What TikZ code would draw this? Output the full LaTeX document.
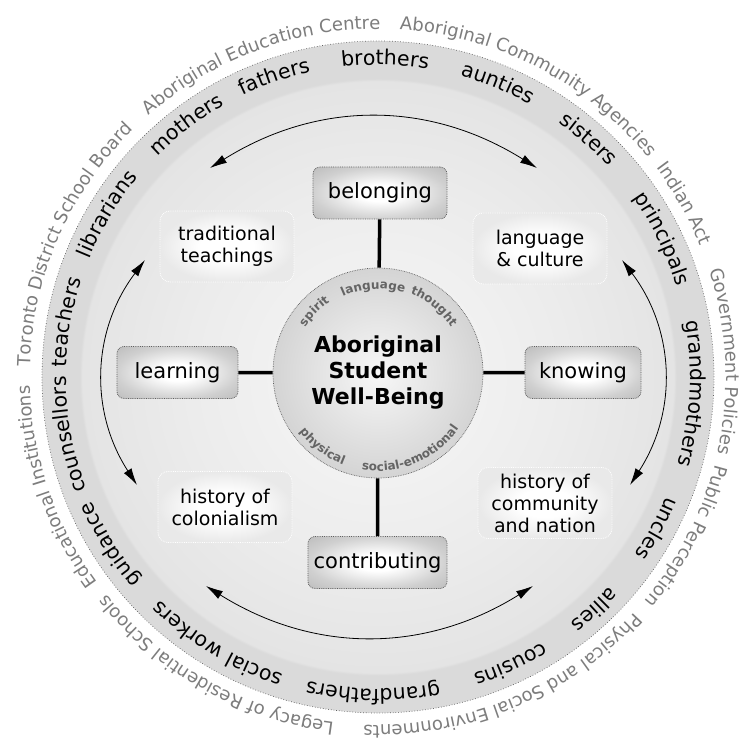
\documentclass[tikz,border=0pt]{standalone}
\usepackage{fontspec}
\setmainfont{DejaVu Sans}
\usetikzlibrary{decorations.text,arrows.meta}
\definecolor{dcenter}{RGB}{247,247,247}
\definecolor{dmid}{RGB}{236,236,236}
\definecolor{dinner}{RGB}{228,228,228}
\definecolor{dband}{RGB}{218,218,218}
\definecolor{icenter}{RGB}{247,247,247}
\definecolor{iedge}{RGB}{212,212,212}
\definecolor{bedge}{RGB}{208,208,208}
\definecolor{bcorner}{RGB}{188,188,188}
\definecolor{ledge}{RGB}{233,233,233}
\definecolor{ringgray}{RGB}{125,125,125}
\definecolor{smallgray}{RGB}{100,100,100}
\definecolor{dotgray}{RGB}{95,95,95}
\pgfdeclareradialshading{diskshade}{\pgfpoint{0bp}{0bp}}{color(0bp)=(dcenter); color(14bp)=(dmid); color(22bp)=(dinner); color(22.2bp)=(dband); color(25bp)=(dband); color(50bp)=(dband)}
\pgfdeclareradialshading{innershade}{\pgfpoint{0bp}{0bp}}{color(0bp)=(icenter); color(25bp)=(iedge); color(50bp)=(iedge)}
\pgfdeclareradialshading{boxshade}{\pgfpoint{0bp}{0bp}}{color(0bp)=(white); color(8bp)=(white); color(25bp)=(bedge); color(36bp)=(bcorner); color(50bp)=(bcorner)}
\pgfdeclareradialshading{lightshade}{\pgfpoint{0bp}{0bp}}{color(0bp)=(white); color(10bp)=(white); color(25bp)=(ledge); color(50bp)=(ledge)}
\newcommand\rfblack{\fontsize{20.5}{24}\selectfont\color{black}}
\newcommand\rfgray{\fontsize{18}{22}\selectfont\color{ringgray}}
\newcommand\rfsmall{\bfseries\fontsize{12}{14}\selectfont\color{smallgray}}
\newcommand\cwtext[4]{\path[decorate,decoration={text along path,text align=center,text={|#3|#4}}] (#1+80:#2) arc[start angle=#1+80,end angle=#1-80,radius=#2];}
\newcommand\ccwtext[4]{\path[decorate,decoration={text along path,text align=center,text={|#3|#4}}] (#1-80:#2) arc[start angle=#1-80,end angle=#1+80,radius=#2];}
\tikzset{
  darkbox/.style={draw=dotgray, densely dotted, line width=0.8pt, rounded corners=7pt, shade, shading=boxshade, minimum height=52pt, inner sep=0pt, font=\fontsize{21}{25}\selectfont},
  lightbox/.style={draw=white, densely dotted, line width=0.8pt, rounded corners=10pt, shade, shading=lightshade, minimum width=134pt, minimum height=71pt, inner sep=2pt, align=center, font=\fontsize{19}{22}\selectfont},
  conn/.style={line width=3.5pt, black},
  arr/.style={line width=0.8pt, {Latex[length=17pt,width=9pt]}-{Latex[length=17pt,width=9pt]}},
}
\begin{document}
\begin{tikzpicture}[x=1pt,y=1pt]
\useasboundingbox (-378,-370) rectangle (362,377);
\fill[white] (-378,-370) rectangle (362,377);
% big disk
\shade[shading=diskshade] (0,0) circle (336pt);
\draw[dotgray, dotted, line width=0.7pt] (0,0) circle (336pt);
% arrows
\coordinate (tl) at (-168,209);
\coordinate (tr) at (159,209);
\coordinate (rt) at (244,117);
\coordinate (rb) at (252,-108);
\coordinate (br) at (155,-209);
\coordinate (bl) at (-172,-209);
\coordinate (lb) at (-241,-108);
\coordinate (lt) at (-233,117);
\draw[arr] (tl) to[bend left=32] (tr);
\draw[arr] (rt) to[bend left=35] (rb);
\draw[arr] (br) to[bend left=32] (bl);
\draw[arr] (lb) to[bend left=35] (lt);
% centre
\node[circle, minimum size=210pt, draw=dotgray, densely dotted, line width=0.7pt, shade, shading=innershade, align=center, font=\bfseries\fontsize{22}{26}\selectfont] (inner) at (0,4) {Aboriginal\\Student\\Well-Being};
% boxes
\node[darkbox, minimum width=134pt] (belonging) at (2,184) {belonging};
\node[darkbox, minimum width=121pt] (learning) at (-200.5,4.5) {learning};
\node[darkbox, minimum width=116pt] (knowing) at (205,4.5) {knowing};
\node[darkbox, minimum width=139pt] (contributing) at (-0.5,-185.5) {contributing};
\node[lightbox] (trad) at (-151,130.5) {traditional\\teachings};
\node[lightbox] (lang) at (162,128.5) {language\\\& culture};
\node[lightbox] (colon) at (-153,-130) {history of\\colonialism};
\node[lightbox] (comm) at (167,-126) {history of\\community\\and nation};
\draw[conn] (belonging) -- (inner);
\draw[conn] (learning) -- (inner);
\draw[conn] (knowing) -- (inner);
\draw[conn] (contributing) -- (inner);
% black ring words
\cwtext{88.7}{312pt}{\rfblack}{brothers}
\cwtext{109.1}{312pt}{\rfblack}{fathers}
\cwtext{127.2}{312pt}{\rfblack}{mothers}
\cwtext{149}{312pt}{\rfblack}{librarians}
\cwtext{170}{312pt}{\rfblack}{teachers}
\cwtext{190.5}{312pt}{\rfblack}{counsellors}
\cwtext{212}{312pt}{\rfblack}{guidance}
\cwtext{239}{312pt}{\rfblack}{social workers}
\cwtext{269.1}{312pt}{\rfblack}{grandfathers}
\cwtext{294.8}{312pt}{\rfblack}{cousins}
\cwtext{312.9}{312pt}{\rfblack}{allies}
\cwtext{331.5}{312pt}{\rfblack}{uncles}
\cwtext{356.9}{312pt}{\rfblack}{grandmothers}
\cwtext{25.9}{312pt}{\rfblack}{principals}
\cwtext{48.5}{312pt}{\rfblack}{sisters}
\cwtext{67.8}{312pt}{\rfblack}{aunties}
% gray outer words
\cwtext{110.4}{348pt}{\rfgray}{Aboriginal Education Centre}
\cwtext{62.7}{348pt}{\rfgray}{Aboriginal Community Agencies}
\cwtext{29.5}{348pt}{\rfgray}{Indian Act}
\cwtext{2.6}{348pt}{\rfgray}{Government Policies}
\cwtext{-27.3}{348pt}{\rfgray}{Public Perception}
\cwtext{-67.5}{348pt}{\rfgray}{Physical and Social Environments}
\cwtext{-119.3}{348pt}{\rfgray}{Legacy of Residential Schools}
\cwtext{-161.2}{348pt}{\rfgray}{Educational Institutions}
\cwtext{156.4}{348pt}{\rfgray}{Toronto District School Board}
% inner small words
\begin{scope}[shift={(0,4)}]
\cwtext{135.9}{86pt}{\rfsmall}{spirit}
\cwtext{93.3}{84pt}{\rfsmall}{language}
\cwtext{49.9}{86pt}{\rfsmall}{thought}
\ccwtext{233}{98pt}{\rfsmall}{physical}
\ccwtext{293}{98pt}{\rfsmall}{social-emotional}
\end{scope}
\end{tikzpicture}
\end{document}
